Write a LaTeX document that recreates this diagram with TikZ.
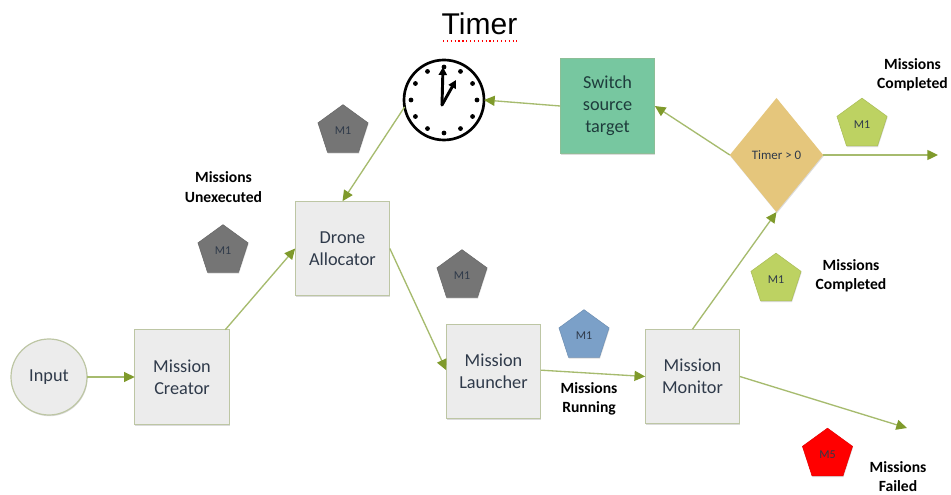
\documentclass[tikz,border=0pt]{standalone}
\usepackage{fontspec}
\setmainfont{Carlito}
\newfontfamily\titlefont{Liberation Sans}
\usetikzlibrary{shapes.geometric,arrows.meta,shadows,calc}
\definecolor{lineolive}{HTML}{A6BB6E}
\definecolor{tipolive}{HTML}{7F9A2B}
\definecolor{boxfill}{HTML}{ECECEC}
\definecolor{boxedge}{HTML}{BDC6A4}
\definecolor{inktext}{HTML}{2F3A4A}
\definecolor{switchfill}{HTML}{77C7A0}
\definecolor{switchedge}{HTML}{8CBE96}
\definecolor{switchtext}{HTML}{1E3C3C}
\definecolor{decidefill}{HTML}{E5C67C}
\definecolor{tokgray}{HTML}{757575}
\definecolor{tokgreen}{HTML}{BDD262}
\definecolor{tokblue}{HTML}{7BA0C8}
\definecolor{tokred}{HTML}{FF0000}
\tikzset{
  softshadow/.style={drop shadow={opacity=.28,shadow xshift=0.4pt,shadow yshift=-0.9pt}},
  procbox/.style={rectangle,draw=boxedge,line width=0.9pt,fill=boxfill,minimum width=71pt,minimum height=71pt,
    inner sep=0pt,outer sep=0pt,align=center,text=inktext,font=\fontsize{13.7}{16.5}\selectfont,softshadow},
  inputnode/.style={circle,draw=boxedge,line width=0.9pt,fill=boxfill,minimum size=57pt,inner sep=0pt,outer sep=0pt,
    text=inktext,font=\fontsize{13.7}{16}\selectfont,softshadow},
  token/.style={regular polygon,regular polygon sides=5,minimum size=39.5pt,inner sep=0pt,outer sep=0pt,
    draw=#1!90!black,line width=0.4pt,fill=#1,text=inktext,font=\fontsize{9}{10}\selectfont,softshadow},
  caption/.style={align=center,inner sep=0pt,text=black,font=\fontsize{11.7}{14.5}\selectfont\bfseries},
  flow/.style={draw=lineolive,line width=1pt,-{Triangle[length=8pt,width=7.5pt,color=tipolive]}},
  clockdot/.style={circle,fill=black,inner sep=0pt,minimum size=3.6pt},
}
\begin{document}
\begin{tikzpicture}[x=0.75pt,y=-0.75pt]
\useasboundingbox[fill=white] (0,0) rectangle (951,495);

% title
\node[inner sep=0pt,font=\titlefont\fontsize{22.5}{26}\selectfont] (title) at (479.5,24) {Timer};
\coordinate (ulA) at (443,41);
\coordinate (ulB) at (517,41);
\draw[red,line width=0.9pt,dotted] (ulA) -- (ulB);

% main nodes
\node[inputnode] (input) at (49,377) {Input};
\node[procbox] (creator) at (182,377) {Mission\\Creator};
\node[procbox] (alloc) at (342.5,248.5) {Drone\\Allocator};
\node[procbox] (launcher) at (493.5,371.5) {Mission\\Launcher};
\node[procbox] (monitor) at (692.5,376.5) {Mission\\Monitor};
\node[procbox,fill=switchfill,draw=switchedge,text=switchtext] (switch) at (607.5,106) {Switch\\source\\target};
\node[diamond,aspect=1,fill=decidefill,minimum width=70pt,minimum height=85.5pt,inner sep=0pt,outer sep=0pt,
  text=inktext,font=\fontsize{9.7}{11}\selectfont,softshadow] (decide) at (776.5,155) {Timer > 0};

% clock
\node[circle,draw=black,line width=2pt,fill=white,minimum size=60pt,inner sep=0pt,outer sep=0pt] (clock) at (444,100) {};
\foreach \a in {0,30,...,330}{
  \node[clockdot] (dot\a) at ($(clock.center)+(\a:33)$) {};
}
\coordinate (hub) at (442,105);
\coordinate (hourtip) at (456,80);
\coordinate (mintip) at (443,67);
\draw[line width=2.2pt,line cap=round,-{Triangle[length=6pt,width=6pt]}] (hub) -- (mintip);
\draw[line width=2.2pt,line cap=round,-{Triangle[length=6pt,width=6pt]}] (hub) -- (hourtip);

% free ends
\coordinate (outdone) at (938,155);
\coordinate (outfail) at (907,428);

% connectors
\draw[flow] (input.east) -- (creator.west);
\draw[flow] ([xshift=-3pt]creator.north east) -- (alloc.west);
\draw[flow] (alloc.east) -- ([yshift=1pt]launcher.west);
\draw[flow] ([yshift=1pt]launcher.east) -- (monitor.west);
\draw[flow] (monitor.north) -- (decide.south);
\draw[flow] (monitor.east) -- (outfail);
\draw[flow] (decide.west) -- (switch.east);
\draw[flow] (switch.west) -- (clock.east);
\draw[flow] (clock.190) -- (alloc.north);
\draw[flow] (decide.east) -- (outdone);

% tokens
\node[token=tokgray] (t1) at (343,131) {M1};
\node[token=tokgray] (t2) at (223,251) {M1};
\node[token=tokgray] (t3) at (462,276) {M1};
\node[token=tokblue] (t4) at (584,336) {M1};
\node[token=tokgreen] (t5) at (776,279.5) {M1};
\node[token=tokgreen] (t6) at (862,124.5) {M1};
\node[token=tokred] (t7) at (827.5,454.5) {M5};

% captions
\node[caption] (cap1) at (223.5,187) {Missions\\Unexecuted};
\node[caption] (cap2) at (589,399) {Missions\\Running};
\node[caption] (cap3) at (851,275.5) {Missions\\Completed};
\node[caption] (cap4) at (912.5,74.5) {Missions\\Completed};
\node[caption] (cap5) at (898,476.5) {Missions\\Failed};
\end{tikzpicture}
\end{document}
